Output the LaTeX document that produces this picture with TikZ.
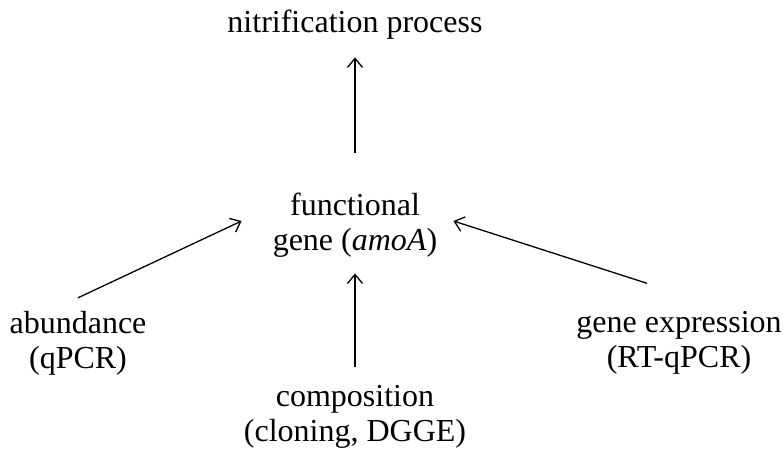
\documentclass[tikz,border=0pt]{standalone}
\usepackage{fontspec}
\setmainfont{Liberation Serif}
\usetikzlibrary{arrows.meta}
\begin{document}
\begin{tikzpicture}[x=1pt, y=-1pt, >={Straight Barb[length=9pt, width=15pt]},
    every node/.style={font=\fontsize{32}{35}\selectfont, align=center, inner sep=0pt},
    link/.style={->, line width=1.3pt}]
\useasboundingbox (0, 0) rectangle (783, 453);
\node (nitr) at (355, 24.5) {nitrification process};
\node (func) at (355, 225) {functional\\gene (\textit{amoA})};
\node (abund) at (78, 343) {abundance\\(qPCR)};
\node (comp) at (355, 417) {composition\\(cloning, DGGE)};
\node (expr) at (679, 343) {gene expression\\(RT-qPCR)};
\draw[link, shorten <=40pt, shorten >=18pt] (func) -- (nitr);
\draw[link, shorten <=18pt, shorten >=16pt] (comp) -- (func);
\draw[link] ([yshift=13pt]abund.north) -- ([xshift=-31pt, yshift=4pt]func.west);
\draw[link] ([xshift=-32pt, yshift=28pt]expr.north) -- ([xshift=16pt, yshift=4pt]func.east);
\end{tikzpicture}
\end{document}
